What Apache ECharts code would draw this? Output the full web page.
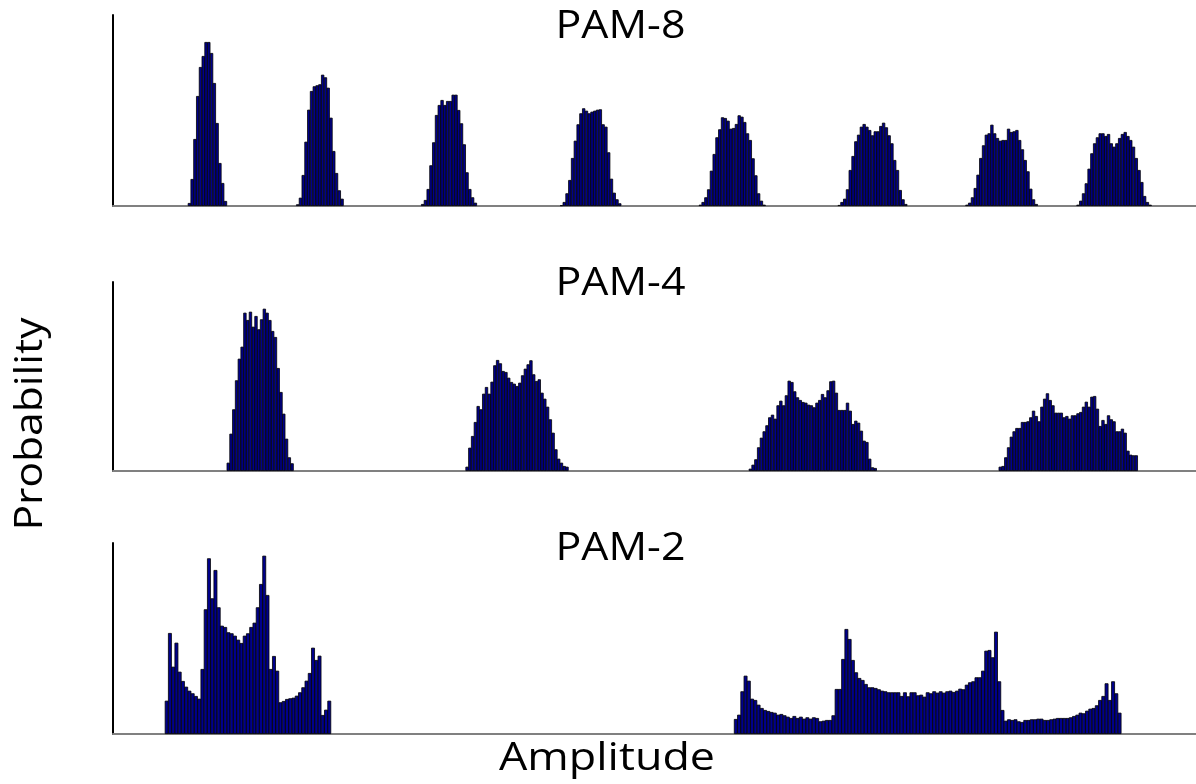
<!DOCTYPE html>
<html>
<head>
<meta charset="utf-8">
<script src="https://cdn.jsdelivr.net/npm/echarts@6/dist/echarts.min.js"></script>
<style>html,body{margin:0;padding:0;background:#fff;}#chart{width:1196px;height:784px;}</style>
</head>
<body>
<div id="chart"></div>
<script>
// ---- data (bar heights in arbitrary probability units) ----
const titles = ['PAM-8', 'PAM-4', 'PAM-2'];
const xName = 'Amplitude';
const yName = 'Probability';

// number of histogram bins per panel
const bins8 = 390, bins4 = 390, bins2 = 333;

// PAM-8 clusters: first bin index and counts
const pam8Start = [27, 66, 111, 161, 211, 261, 307, 347];
const pam8_c1 = [3, 27, 67, 110, 139, 150, 164, 164, 153, 123, 83, 43, 23, 5];
const pam8_c2 = [1.7, 8.3, 31, 64.3, 96.3, 115, 119.7, 120.7, 121.7, 131.3, 128.7, 118.3, 88.3, 55, 33, 15.7, 7.3];
const pam8_c3 = [2, 6, 17, 40.7, 63.7, 91, 101, 106, 101, 105, 105, 111.3, 111.3, 96, 82.7, 61.7, 33.7, 17, 8.7, 3.3];
const pam8_c4 = [0.7, 4, 12.7, 26, 48, 65.3, 81.7, 92.7, 97.7, 95.3, 92.7, 94.3, 95.3, 96.3, 96.7, 81.7, 79.3, 53.7, 27.3, 13.3, 6.7, 2.7];
const pam8_c5 = [1.3, 4, 8.7, 16.7, 35.3, 52, 68.7, 76.7, 88.7, 88, 85.3, 77.3, 78, 82, 90.7, 89.3, 84, 72.7, 66, 47.7, 30.7, 12.7, 5.3, 1.3];
const pam8_c6 = [1, 4, 7.3, 16.7, 36, 50, 64.7, 71.3, 79.3, 82, 79.3, 76, 70.7, 74.7, 74.7, 80, 83.3, 78.7, 70.7, 62.7, 46, 36, 16, 6.7, 2];
const pam8_c7 = [1.3, 3.3, 8.7, 18, 31.3, 48, 60.7, 71.3, 72.7, 81.3, 72.7, 68, 65.3, 66, 66, 77.3, 74, 74.7, 76, 66, 56.7, 46, 34.7, 17.3, 6.7, 2];
const pam8_c8 = [1.3, 5.3, 12.7, 22.7, 37.3, 52.7, 62.7, 68.7, 72.7, 72.7, 70, 72, 62.7, 59.3, 62.7, 68, 72, 74, 70, 66, 59.3, 48, 36, 24, 10, 4, 1.3];

// PAM-4 clusters
const pam4Start = [41, 127, 229, 319];
const pam4_c1 = [8.3, 37.3, 61.7, 90.7, 112.3, 124.3, 158.3, 151, 159.3, 144.3, 155, 141.7, 151.7, 162.3, 158.3, 151, 140, 134, 103, 79, 57.3, 32.3, 13.7, 7.7];
const pam4_c2 = [4.3, 23.3, 35, 49, 65, 61.7, 77.3, 84, 77.3, 89.3, 105.7, 111, 107.7, 100, 99, 93.3, 89, 87.3, 85, 88.3, 95.7, 102.3, 106.7, 110.7, 96.7, 90, 91.7, 78.3, 72.3, 64.3, 51.7, 38.3, 21.7, 12.3, 8.3, 5, 4.3];
const pam4_c3 = [2.3, 6.3, 11.7, 23.7, 33.3, 39.7, 45.7, 53.7, 56.3, 52.3, 65.7, 70.3, 65.7, 75.7, 90.3, 89, 79.7, 73.7, 71, 69, 68.3, 66.3, 65.7, 63.7, 68.3, 71, 77, 73.7, 80.7, 89.7, 90.3, 78.3, 61, 61, 61, 68.3, 60.3, 47, 50.3, 48.3, 40.3, 30.3, 29, 12.3, 3.7, 3];
const pam4_c4 = [4.3, 5, 13.7, 23.7, 34.3, 39.7, 43, 43, 49, 49, 49.7, 53.7, 60.3, 55, 49.7, 64.3, 72.3, 77.7, 71, 65.7, 58.3, 58.3, 58.3, 53.7, 55, 52.3, 55.7, 55.7, 57.7, 59, 64.3, 69.3, 64.3, 74.3, 75, 62.3, 45, 51, 47, 55.7, 51.7, 49.7, 39.7, 39.7, 42.3, 38.3, 20.3, 16.3, 15.7, 15.7];

// PAM-2 clusters
const pam2Start = [16, 191];
const pam2_c1 = [33.3, 101, 67.3, 91.3, 62.3, 53, 47.3, 43.3, 40.7, 38, 35.3, 65, 124.7, 175.7, 135.7, 164, 126.7, 108.3, 107, 101.7, 100.7, 98.3, 94.3, 91, 98.3, 100.7, 107, 111.3, 126.7, 150, 178.3, 139, 65, 78, 63.3, 31.7, 33, 35, 35.7, 36.3, 38.3, 41.7, 46.7, 53.3, 61, 86.3, 74, 78.3, 19, 24.3, 33.3];
const pam2_c2 = [15, 19.3, 42.7, 58.3, 53.3, 35.3, 34, 29.3, 26, 24, 23, 22, 21.3, 19.3, 20, 18.7, 17.3, 16, 18, 16, 17.3, 15.3, 16.7, 15.3, 16.7, 16, 12.7, 13.3, 14, 14, 18.7, 45, 45, 75, 105, 95, 74, 61.7, 56, 54, 50, 46.7, 46.7, 46, 44.7, 43.3, 42.7, 41.7, 41.7, 41.7, 41.7, 38, 41.7, 37.7, 41.7, 41.7, 38.7, 39.3, 37.3, 41.7, 40.7, 42.7, 41.3, 42.7, 41.3, 42.7, 43.3, 42, 43.3, 45.3, 44.7, 49.3, 51.7, 52.7, 56.7, 56.7, 63.3, 83.3, 84, 76.7, 102.3, 52.7, 24, 13.3, 14.7, 14, 14.7, 12.7, 12, 14, 14, 14.7, 14.7, 15.3, 15.3, 14, 14, 14.7, 15.3, 16, 16, 16, 16, 16.7, 18, 19.3, 21.3, 20.7, 23.3, 25.3, 26, 28.7, 34, 38, 50.7, 34, 52.7, 40.7, 21.3];

// y-axis maxima per panel
const yMax = [191, 189, 191];

// ---- build ----
function fillBins(n, starts, clusters) {
  const arr = new Array(n).fill(null);
  clusters.forEach((c, k) => c.forEach((v, i) => { arr[starts[k] + i] = v; }));
  return arr;
}
function cats(n) { return Array.from({ length: n }, (_, i) => i); }

const panels = [
  { n: bins8, data: fillBins(bins8, pam8Start, [pam8_c1, pam8_c2, pam8_c3, pam8_c4, pam8_c5, pam8_c6, pam8_c7, pam8_c8]) },
  { n: bins4, data: fillBins(bins4, pam4Start, [pam4_c1, pam4_c2, pam4_c3, pam4_c4]) },
  { n: bins2, data: fillBins(bins2, pam2Start, [pam2_c1, pam2_c2]) }
];

const gridTops = [15, 282, 543];
const gridHeights = [191, 189, 191];

const chart = echarts.init(document.getElementById('chart'));
const FONT = '38px "Open Sans", "Liberation Sans", sans-serif';
function txt(text, x, y, sx, rot) {
  return {
    type: 'text', x: x, y: y, scaleX: sx, rotation: rot || 0, z: 100,
    style: { text: text, font: FONT, fill: '#000', align: 'center', verticalAlign: 'middle', textAlign: 'center', textVerticalAlign: 'middle' }
  };
}

chart.setOption({
  animation: false,
  backgroundColor: '#ffffff',
  grid: gridTops.map((t, i) => ({ left: 113, right: 0, top: t, height: gridHeights[i], containLabel: false })),
  xAxis: panels.map((p, i) => ({
    type: 'category', gridIndex: i, data: cats(p.n), boundaryGap: true,
    axisLine: { show: true, lineStyle: { color: '#808080', width: 2 } },
    axisTick: { show: false }, axisLabel: { show: false }, splitLine: { show: false }
  })),
  yAxis: panels.map((p, i) => ({
    type: 'value', gridIndex: i, min: 0, max: yMax[i],
    axisLine: { show: true, lineStyle: { color: '#000', width: 2 } },
    axisTick: { show: false }, axisLabel: { show: false }, splitLine: { show: false }
  })),
  series: panels.map((p, i) => ({
    type: 'bar', xAxisIndex: i, yAxisIndex: i, data: p.data,
    barWidth: '118%', barGap: '-100%',
    itemStyle: { color: '#00008c', borderColor: '#000000', borderWidth: 0.8 },
    emphasis: { disabled: true }
  })),
  graphic: [
    txt(titles[0], 620.5, 27, 1.13),
    txt(titles[1], 620.5, 284, 1.13),
    txt(titles[2], 620.5, 549, 1.13),
    txt(xName, 607, 759, 1.18),
    txt(yName, 31, 424, 1.12, Math.PI / 2)
  ]
});
</script>
</body>
</html>
